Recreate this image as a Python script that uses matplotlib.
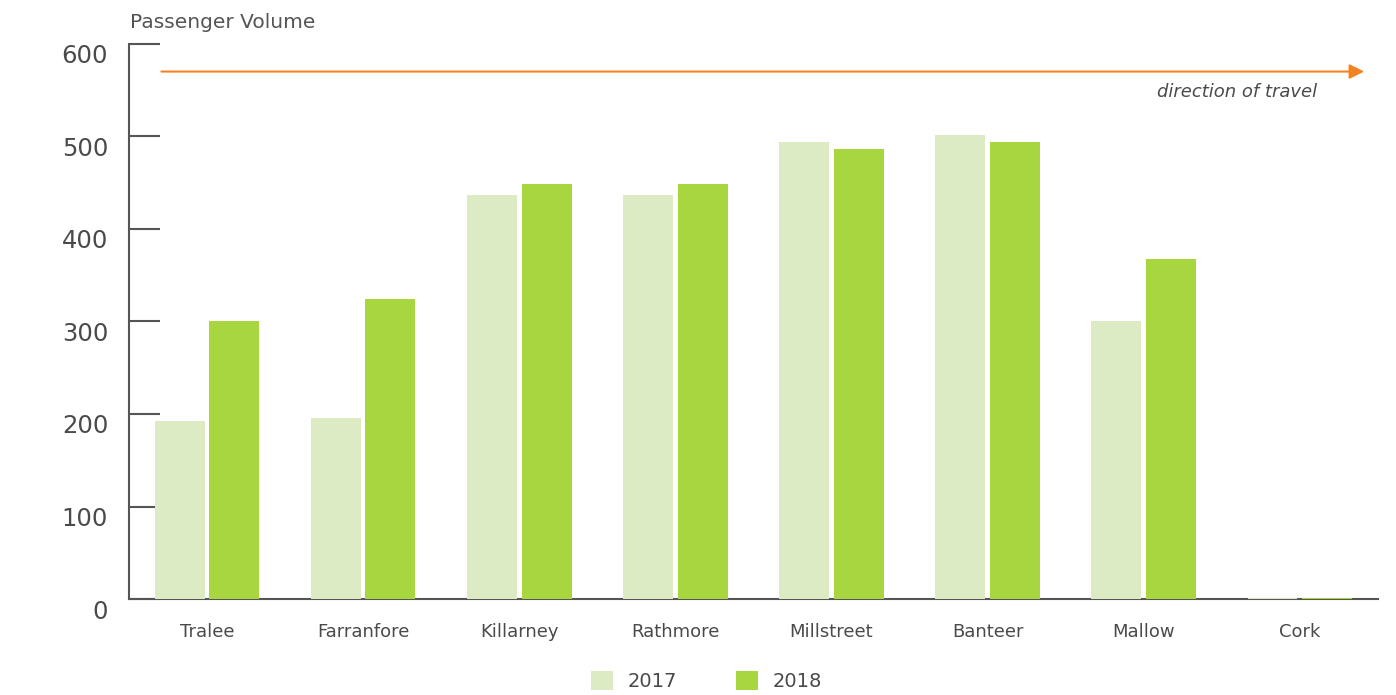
import matplotlib.pyplot as plt
import matplotlib.transforms as mtransforms
import numpy as np

stations = ['Tralee', 'Farranfore', 'Killarney', 'Rathmore', 'Millstreet', 'Banteer', 'Mallow', 'Cork']
vol_2017 = [192, 196, 437, 437, 494, 501, 301, 1]
vol_2018 = [301, 324, 449, 449, 486, 494, 367, 1]

plt.rcParams['font.family'] = ['DejaVu Sans']

fig = plt.figure(figsize=(13.96, 6.95), dpi=100)
ax = fig.add_axes([0.0924, 0.138, 0.8946, 0.799])

x = np.arange(len(stations))
w = 0.32
ax.bar(x - 0.175, vol_2017, w, color='#dcebc4', label='2017', zorder=3)
ax.bar(x + 0.175, vol_2018, w, color='#a8d63e', label='2018', zorder=3)

ax.set_xlim(-0.5, 7.5)
ax.set_ylim(0, 600)
ax.set_yticks(range(0, 601, 100))
ax.set_xticks(x)
ax.set_xticklabels(stations, fontsize=13, color='#4a4a4a')
ax.tick_params(axis='x', length=0, pad=17)
ax.tick_params(axis='y', direction='in', length=22, width=1.5, color='#555555',
               labelsize=17.5, labelcolor='#4a4a4a', pad=15)
# tick labels sit a little below their ticks
shift = mtransforms.ScaledTranslation(0, -0.10, fig.dpi_scale_trans)
for lab in ax.get_yticklabels():
    lab.set_transform(lab.get_transform() + shift)
for s in ['top', 'right']:
    ax.spines[s].set_visible(False)
for s in ['left', 'bottom']:
    ax.spines[s].set_color('#555555')
    ax.spines[s].set_linewidth(1.5)

# direction arrow
ax.annotate('', xy=(7.43, 570), xytext=(-0.31, 570),
            arrowprops=dict(arrowstyle='-|>', color='#f58220', lw=1.5, mutation_scale=22))
ax.text(7.11, 548, 'direction of travel', style='italic', fontsize=13,
        color='#4a4a4a', ha='right', va='center')

fig.text(0.093, 0.968, 'Passenger Volume', fontsize=14.5, color='#555555', ha='left', va='center')

fig.legend(loc='center', bbox_to_anchor=(0.506, 0.02), ncol=2, frameon=False,
           fontsize=14, handlelength=1.15, handleheight=1.15, columnspacing=3.0,
           handletextpad=0.75, labelcolor='#4a4a4a')

plt.savefig('out.png', dpi=100)
